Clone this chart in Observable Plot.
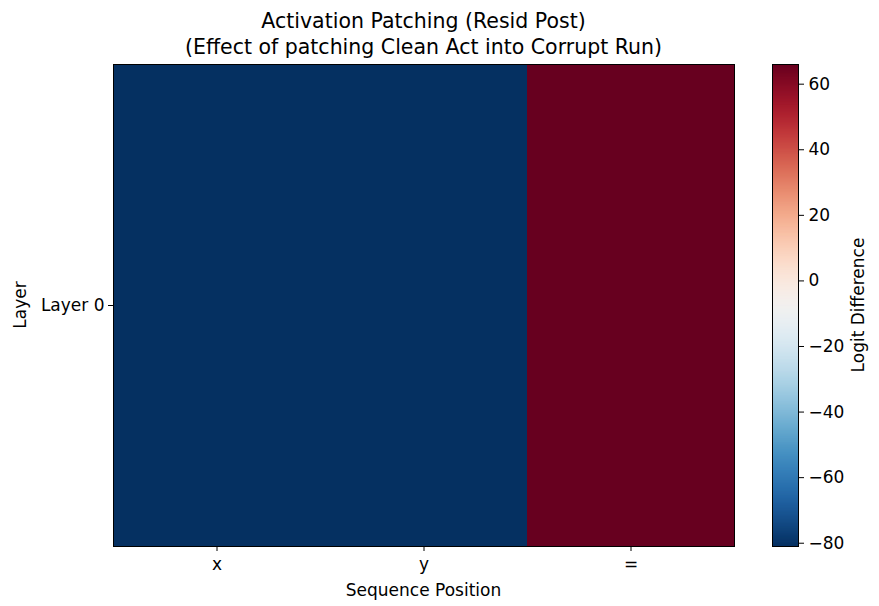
<!DOCTYPE html>
<html>
<head>
<meta charset="utf-8">
<script src="https://cdn.jsdelivr.net/npm/d3@7"></script>
<script src="https://cdn.jsdelivr.net/npm/@observablehq/plot@0.6"></script>
<style>
  html, body { margin: 0; padding: 0; background: #fff; }
  #wrap { position: relative; width: 879px; height: 606px; font-family: "DejaVu Sans", sans-serif; color: #000; }
  #wrap svg { position: absolute; left: 0; top: 0; }
  .lbl { position: absolute; white-space: nowrap; font-size: 17px; line-height: 1; }
  .title { position: absolute; white-space: nowrap; font-size: 20.5px; line-height: 1; transform: translate(-50%, -50%); }
</style>
</head>
<body>
<div id="wrap">
  <div class="title" style="left:423.5px; top:21px">Activation Patching (Resid Post)</div>
  <div class="title" style="left:423.5px; top:47px">(Effect of patching Clean Act into Corrupt Run)</div>
</div>
<script>
// Data
const positions = ["x", "y", "="];
const layers = ["Layer 0"];
const logitDiff = [[-81.0, -81.0, 66.0]];   // rows = layers, columns = positions
const colorTicks = [-80, -60, -40, -20, 0, 20, 40, 60];
const colorDomain = [-81.0, 66.0];

const cells = [];
layers.forEach((l, i) => positions.forEach((p, j) => cells.push({layer: l, pos: p, value: logitDiff[i][j]})));

const colorOpts = {type: "linear", scheme: "rdbu", reverse: true, domain: colorDomain};
const fmt = d => d < 0 ? "\u2212" + Math.abs(d) : String(d);
const W = 879, H = 606;
const st = {fontFamily: "DejaVu Sans, sans-serif", fontSize: "17px", color: "#000", background: "transparent"};

const main = Plot.plot({
  width: W, height: H,
  marginLeft: 113, marginRight: W - 734, marginTop: 64, marginBottom: H - 546,
  style: st,
  x: {domain: positions, padding: 0, label: null},
  y: {domain: layers, padding: 0, label: null},
  color: colorOpts,
  marks: [
    Plot.cell(cells, {x: "pos", y: "layer", fill: "value", inset: 0}),
    Plot.frame({stroke: "#000", strokeWidth: 1}),
    Plot.axisX({tickSize: 5, tickPadding: 6, stroke: "#000", label: null, fontSize: 17}),
    Plot.axisY({tickSize: 5, tickPadding: 4, stroke: "#000", label: null, fontSize: 17})
  ]
});

const bar = d3.range(colorDomain[0], colorDomain[1], 0.25);
const cbar = Plot.plot({
  width: W, height: H,
  marginLeft: 772, marginRight: W - 798, marginTop: 64, marginBottom: H - 546,
  style: st,
  y: {domain: colorDomain, label: null},
  color: colorOpts,
  marks: [
    Plot.rect(bar, {y1: d => d, y2: d => Math.min(d + 0.5, colorDomain[1]), fill: d => d + 0.125}),
    Plot.frame({stroke: "#000", strokeWidth: 1}),
    Plot.axisY({anchor: "right", ticks: colorTicks, tickFormat: fmt, tickSize: 5, tickPadding: 5, label: null, fontSize: 17})
  ]
});

const wrap = document.getElementById("wrap");
wrap.appendChild(main);
wrap.appendChild(cbar);

function addLabel(text, x, y, rotate) {
  const d = document.createElement("div");
  d.className = "lbl";
  d.textContent = text;
  d.style.left = x + "px";
  d.style.top = y + "px";
  d.style.transform = "translate(-50%, -50%)" + (rotate ? " rotate(-90deg)" : "");
  wrap.appendChild(d);
}
addLabel("Sequence Position", 423.5, 590, false);
addLabel("Layer", 20, 305, true);
addLabel("Logit Difference", 858, 305, true);
</script>
</body>
</html>
